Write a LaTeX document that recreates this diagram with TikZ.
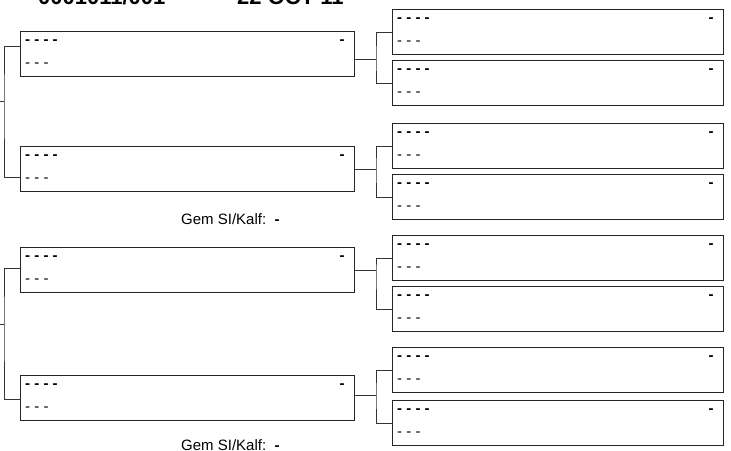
\documentclass[tikz,border=0pt]{standalone}
\usepackage{fontspec}
\setmainfont{Liberation Sans}
\usepackage{tikz}
\newcommand{\drawentry}[4]{%
  \node[entrybox,minimum width=#4] (#1) at (#2,#3) {};
  \node[toprow] (#1-name) at ([shift={(5pt,-13pt)}]#1.north west) {- - - -};
  \node[toprow,anchor=base east] (#1-seed) at ([shift={(-10pt,-13pt)}]#1.north east) {-};
  \node[botrow] (#1-club) at ([shift={(5pt,-36pt)}]#1.north west) {- - -};
}

\begin{document}
\begin{tikzpicture}[x=1pt,y=-1pt,
    entrybox/.style={draw=black!85,line width=0.9pt,anchor=north west,minimum height=45pt,inner sep=0pt},
    toprow/.style={anchor=base west,inner sep=0pt,font=\fontsize{15}{18}\selectfont\bfseries},
    botrow/.style={anchor=base west,inner sep=0pt,font=\fontsize{15}{18}\selectfont},
    gemlabel/.style={anchor=base west,inner sep=0pt,font=\fontsize{15}{18}\selectfont},
    heading/.style={anchor=base west,inner sep=0pt,font=\fontsize{22}{26}\selectfont\bfseries},
    conn/.style={draw=black!80,line width=0.9pt}]
  \useasboundingbox (0,0) rectangle (731,450);
  \clip (0,0) rectangle (731,450);

  % heading, cut at the top edge
  \node[heading] (code) at (38,4.5) {0001011/001};
  \node[heading] (date) at (237,4.5) {22 OCT 11};

  % left column
  \drawentry{b1}{20}{31}{334}
  \drawentry{b2}{20}{146}{334}
  \drawentry{b3}{20}{247}{334}
  \drawentry{b4}{20}{375}{334}

  \node[gemlabel] (gem1) at (181,224) {Gem SI/Kalf:\ \ \textbf{-}};
  \node[gemlabel] (gem2) at (181,450) {Gem SI/Kalf:\ \ \textbf{-}};

  % right column
  \drawentry{r1}{392}{9}{331}
  \drawentry{r2}{392}{60}{331}
  \drawentry{r3}{392}{123}{331}
  \drawentry{r4}{392}{174}{331}
  \drawentry{r5}{392}{235}{331}
  \drawentry{r6}{392}{286}{331}
  \drawentry{r7}{392}{347}{331}
  \drawentry{r8}{392}{400}{331}

  % left brackets
  \coordinate (jl1) at (4,101);
  \coordinate (jl1end) at (0,101);
  \draw[conn] ([yshift=-15pt]b1.north west) -| (jl1) |- ([yshift=-31pt]b2.north west);
  \draw[conn] (jl1) -- (jl1end);
  \coordinate (jl2) at (4,324);
  \coordinate (jl2end) at (0,324);
  \draw[conn] ([yshift=-21pt]b3.north west) -| (jl2) |- ([yshift=-24pt]b4.north west);
  \draw[conn] (jl2) -- (jl2end);

  % right brackets
  \coordinate (jr1) at (376,59);
  \draw[conn] (r1.west) -| (jr1) |- (r2.west);
  \draw[conn] (jr1) -- (b1.east |- jr1);
  \coordinate (jr2) at (376,169);
  \draw[conn] (r3.west) -| (jr2) |- (r4.west);
  \draw[conn] (jr2) -- (b2.east |- jr2);
  \coordinate (jr3) at (376,270);
  \draw[conn] (r5.west) -| (jr3) |- (r6.west);
  \draw[conn] (jr3) -- (b3.east |- jr3);
  \coordinate (jr4) at (376,395);
  \draw[conn] (r7.west) -| (jr4) |- (r8.west);
  \draw[conn] (jr4) -- (b4.east |- jr4);
\end{tikzpicture}
\end{document}
